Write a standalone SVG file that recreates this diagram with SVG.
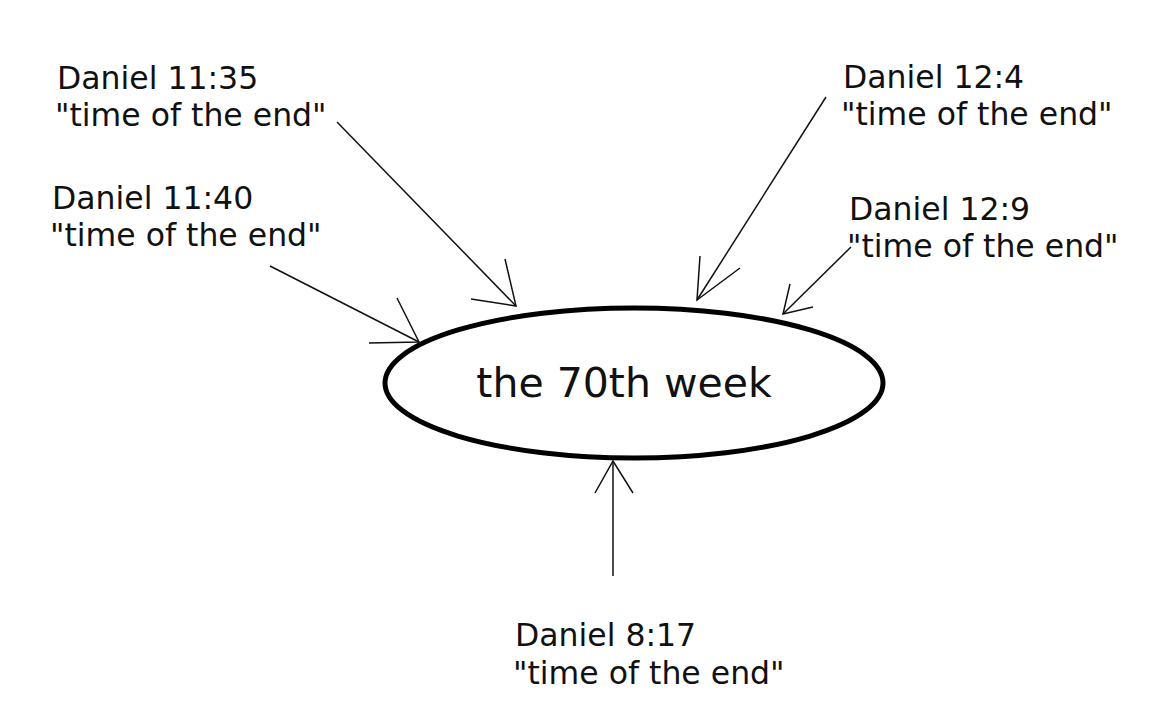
<svg xmlns="http://www.w3.org/2000/svg" width="1165" height="715" viewBox="0 0 1165 715">
<style>
text{font-family:"DejaVu Sans",Verdana,sans-serif;font-size:31.5px;fill:#111}
.c line,.c polyline{stroke:#111;stroke-width:1.5;fill:none}
</style>
<rect width="1165" height="715" fill="#fff"/>
<g id="center">
<ellipse cx="634" cy="383" rx="249" ry="75" fill="#fff" stroke="#000" stroke-width="5"/>
<text x="624" y="397" text-anchor="middle" style="font-size:41px">the 70th week</text>
</g>
<g class="c" id="connectors">
<line x1="337" y1="122" x2="516" y2="306"/><polyline points="505,259 516,306 471,299"/>
<line x1="826" y1="97" x2="697" y2="300"/><polyline points="700,256 697,300 740,268"/>
<line x1="851" y1="247" x2="783" y2="314"/><polyline points="790,284 783,314 813,307"/>
<line x1="270" y1="266" x2="419" y2="342"/><polyline points="397,298 419,342 369,343"/>
<line x1="613" y1="576" x2="613" y2="461"/><polyline points="595,493 613,461 633,493"/>
</g>
<g id="n1135"><text x="57" y="89">Daniel 11:35</text><text x="55" y="126">"time of the end"</text></g>
<g id="n1140"><text x="52" y="209">Daniel 11:40</text><text x="50" y="246">"time of the end"</text></g>
<g id="n124"><text x="843" y="88">Daniel 12:4</text><text x="841" y="125">"time of the end"</text></g>
<g id="n129"><text x="849" y="220">Daniel 12:9</text><text x="847" y="257">"time of the end"</text></g>
<g id="n817"><text x="515" y="646">Daniel 8:17</text><text x="513" y="684">"time of the end"</text></g>
</svg>
